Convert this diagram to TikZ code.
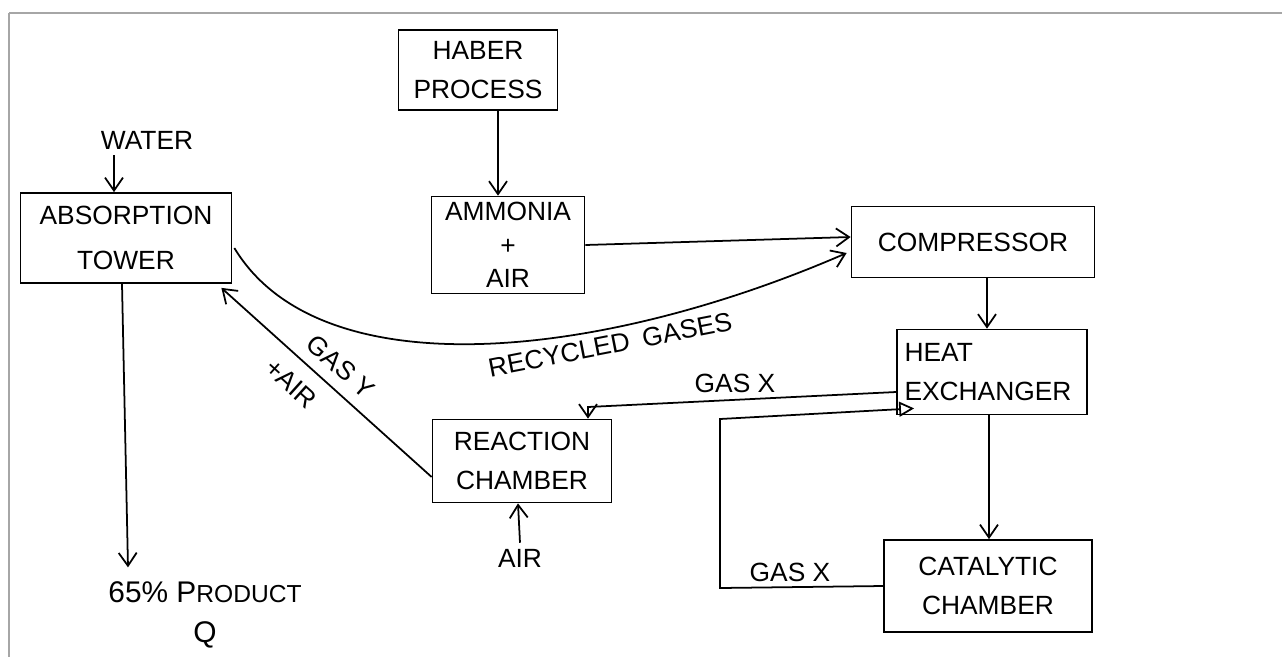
\documentclass[tikz,border=0pt]{standalone}
\usepackage{fontspec}
\setmainfont{Liberation Sans}
\usetikzlibrary{arrows.meta}
\usetikzlibrary{calc}
\tikzstyle{unit}=[draw, line width=1pt, align=center, font=\fontsize{15}{22}\selectfont]
\tikzstyle{stream}=[line width=1pt]
\tikzstyle{flow}=[stream, -{Straight Barb[length=2.6mm, width=3.6mm]}]
\tikzstyle{tag}=[font=\fontsize{15}{22}\selectfont]

\begin{document}
\begin{tikzpicture}[x=0.02cm, y=-0.02cm]
      \useasboundingbox (0,0) rectangle (1282,657);
      \draw[gray!70, line width=1pt] (9,13) -- (1282,13);
      \draw[gray!70, line width=1pt] (9,13) -- (9,657);
      \node[unit, minimum width=3.18cm, minimum height=1.6cm] (haber) at (478,70) {HABER\\PROCESS};
      \node[unit, minimum width=3.06cm, minimum height=1.9cm, font=\fontsize{15}{19}\selectfont] (ammonia) at (508,245) {AMMONIA\\+\\AIR};
      \node[unit, minimum width=4.22cm, minimum height=1.8cm, font=\fontsize{15}{26}\selectfont] (absorption) at (126,238) {ABSORPTION\\TOWER};
      \node[unit, minimum width=4.86cm, minimum height=1.42cm] (compressor) at (973,242) {COMPRESSOR};
      \node[unit, minimum width=3.8cm, minimum height=1.7cm, align=left, text width=3.5cm] (heatex) at (992,372) {HEAT\\EXCHANGER};
      \node[unit, minimum width=3.58cm, minimum height=1.66cm] (reaction) at (522,461) {REACTION\\CHAMBER};
      \node[unit, minimum width=4.16cm, minimum height=1.84cm] (catalytic) at (988,586) {CATALYTIC\\CHAMBER};
      \node[tag] (water) at (147,140) {WATER};
      \node[tag] (air) at (520,558) {AIR};
      \node[tag, align=center, font=\fontsize{17}{23}\selectfont] (product) at (205,615) {65\% P{\fontsize{14}{14}\selectfont RODUCT}\\Q};
      \node[tag] (gasx1) at (735,383) {GAS X};
      \node[tag] (gasx2) at (790,572) {GAS X};
      \coordinate (bend) at (588,407);
      \coordinate (loopbl) at (720,588);
      \coordinate (looptl) at (720,419);
      % feed lines
      \draw[flow] ($(water.south)+(-33,0)$) to ($(absorption.north)+(-12,0)$);
      \draw[flow] ($(haber.south)+(20,0)$) to ($(ammonia.north)+(-10,0)$);
      \draw[flow] (ammonia.east) to ($(compressor.west)+(0,-5)$);
      \draw[flow] (compressor.south -| 987,0) to (heatex.north -| 987,0);
      \draw[flow] (heatex.south -| 989,0) to (catalytic.north -| 989,0);
      \draw[flow] (air.north) to ($(reaction.south)+(-4,0)$);
      \draw[flow] ($(absorption.south)+(-4,0)$) to ($(product.north)+(-77,-8)$);
      % recycle and return lines
      \draw[flow] ($(absorption.east)+(2,10)$)
        .. controls (320,390) and (600,360) ..
        node[pos=0.68, sloped, below, tag] {RECYCLED\enspace GASES}
        ($(compressor.west)+(-4,11)$);
      \draw[stream, {Straight Barb[length=2.6mm, width=3.6mm]}-] ($(absorption.south east)+(-11,4)$)
        to node[pos=0.5, sloped, above=3pt, tag] {GAS Y}
        node[pos=0.41, sloped, below=5pt, tag] {+AIR}
        ($(reaction.west)+(0,16)$);
      \draw[flow] ($(heatex.west)+(0,20)$)
        to (bend)
        to (reaction.north -| bend);
      \draw[stream, -{Triangle[open, length=3mm, width=3mm]}] (catalytic.west)
        to (loopbl)
        to (looptl)
        to ($(heatex.south west)+(18,-7)$);
    \end{tikzpicture}
\end{document}
